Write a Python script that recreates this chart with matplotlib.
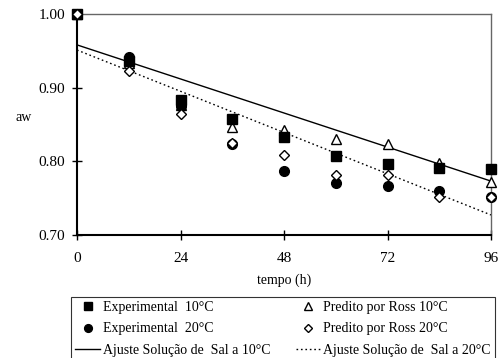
import matplotlib
matplotlib.use('Agg')
import matplotlib.pyplot as plt
import matplotlib.ticker as ticker

plt.rcParams['font.family'] = ['Liberation Serif', 'DejaVu Serif']

tempo = [0, 12, 24, 36, 48, 60, 72, 84, 96]
exp_10 = [1.000, 0.936, 0.883, 0.857, 0.833, 0.807, 0.796, 0.791, 0.790]
exp_20 = [1.000, 0.942, 0.875, 0.824, 0.787, 0.771, 0.766, 0.760, 0.751]
ross_10 = [1.000, 0.934, 0.876, 0.847, 0.843, 0.830, 0.824, 0.797, 0.772]
ross_20 = [1.000, 0.923, 0.864, 0.825, 0.808, 0.781, 0.781, 0.752, 0.752]

# linear fits, given by their endpoints
fit_x = [0, 96]
fit_10 = [0.958, 0.773]
fit_20 = [0.951, 0.727]

fig = plt.figure(figsize=(5.0, 3.58), dpi=100)
ax = fig.add_axes([0.154, 0.344, 0.828, 0.617])

ax.plot(fit_x, fit_10, color='black', lw=1.0, ls='-', label='Ajuste Solução de  Sal a 10°C')
ax.plot(fit_x, fit_20, color='black', lw=1.0, ls=(0, (1.2, 2.0)), label='Ajuste Solução de  Sal a 20°C')

ax.plot(tempo, ross_10, ls='none', marker='^', ms=7, mfc='white', mec='black', mew=1.0,
        clip_on=False, zorder=3, label='Predito por Ross 10°C')
ax.plot(tempo, exp_10, ls='none', marker='s', ms=7, mfc='black', mec='black',
        clip_on=False, zorder=4, label='Experimental  10°C')
ax.plot(tempo, exp_20, ls='none', marker='o', ms=7, mfc='black', mec='black',
        clip_on=False, zorder=4, label='Experimental  20°C')
ax.plot(tempo, ross_20, ls='none', marker='D', ms=5, mfc='white', mec='black', mew=1.0,
        clip_on=False, zorder=5, label='Predito por Ross 20°C')

ax.set_xlim(0, 96)
ax.set_ylim(0.70, 1.00)
ax.set_xticks([0, 24, 48, 72, 96])
ax.set_yticks([0.70, 0.80, 0.90, 1.00])
ax.yaxis.set_major_formatter(ticker.FormatStrFormatter('%.2f'))
ax.tick_params(direction='inout', length=7, width=1.0, labelsize=11)
ax.tick_params(axis='x', pad=9)
ax.tick_params(axis='y', pad=5)

for s in ['left', 'bottom']:
    ax.spines[s].set_linewidth(1.5)
    ax.spines[s].set_color('black')
for s in ['top', 'right']:
    ax.spines[s].set_linewidth(1.0)
    ax.spines[s].set_color('#666666')

ax.set_xlabel('tempo (h)', fontsize=10, labelpad=6)
ax.set_ylabel('aw', fontsize=10, rotation=0, va='center')
ax.yaxis.set_label_coords(-0.13, 0.53)

h, l = ax.get_legend_handles_labels()
order = ['Experimental  10°C', 'Experimental  20°C', 'Ajuste Solução de  Sal a 10°C',
         'Predito por Ross 10°C', 'Predito por Ross 20°C', 'Ajuste Solução de  Sal a 20°C']
hd = dict(zip(l, h))
leg = fig.legend([hd[k] for k in order], order, loc='upper left',
                 bbox_to_anchor=(0.142, 0.1704, 0.848, 0), mode='expand',
                 ncol=2, fontsize=10, frameon=True, fancybox=False,
                 edgecolor='black', handlelength=1.8, handletextpad=0.2,
                 borderpad=0.3, labelspacing=0.6, columnspacing=1.0,
                 borderaxespad=0, markerscale=0.8)
leg.get_frame().set_linewidth(0.8)

fig.savefig('out.png', dpi=100)
